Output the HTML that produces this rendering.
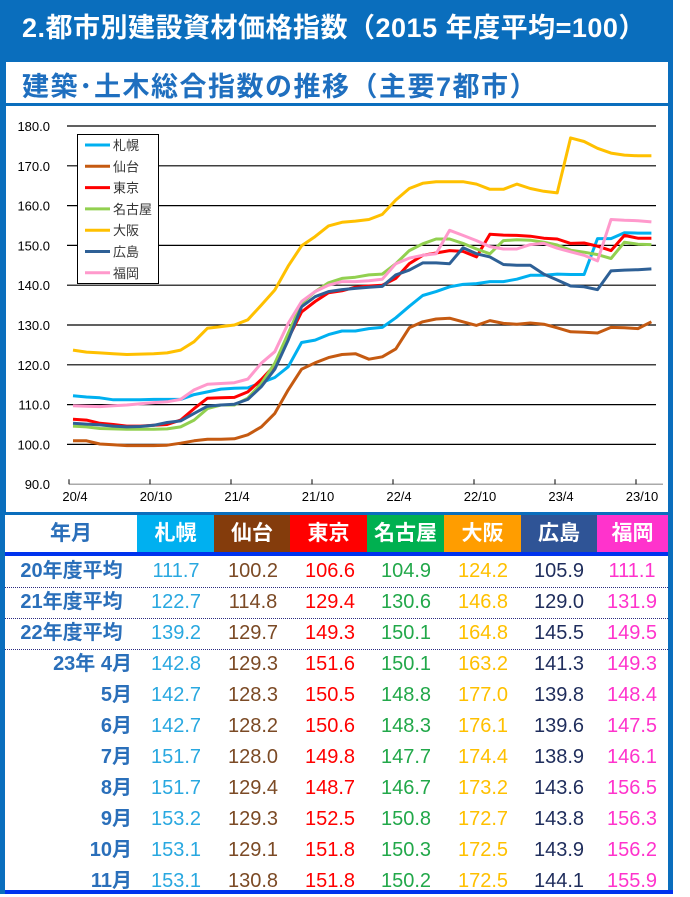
<!DOCTYPE html>
<html><head><meta charset="utf-8">
<style>
body{margin:0;width:690px;height:894px;background:#fff;position:relative;overflow:hidden;font-family:"Liberation Sans","Noto Sans CJK JP",sans-serif;}
.frame{position:absolute;left:0;top:0;width:673px;height:894px;background:#0a6ebd;}
.h1{position:absolute;left:22px;top:6px;color:#fff;font-weight:bold;font-size:27px;letter-spacing:0.5px;white-space:nowrap;}
.sub{position:absolute;left:6px;top:62px;width:662px;height:41px;background:#fff;}
.sub span{position:absolute;left:16px;top:3px;color:#1f6fbf;font-weight:bold;font-size:27px;letter-spacing:1.5px;white-space:nowrap;}
.chart{position:absolute;left:6px;top:106px;width:662px;height:406px;background:#fff;}
.table{position:absolute;left:5px;top:515px;width:663px;height:375px;background:#fff;}
.hd{position:absolute;top:0;height:37px;color:#fff;font-weight:bold;font-size:21px;text-align:center;line-height:37px;}
.row{position:absolute;left:0;width:663px;height:31px;line-height:31px;font-size:20px;}
.row span{position:absolute;text-align:center;width:76px;}
.row .l{left:0;width:127px;text-align:right;color:#2a6fba;font-weight:bold;}
.sep{position:absolute;left:0;width:663px;border-top:1.5px dotted #2a2a80;}
</style></head><body>
<div class="frame"></div>
<div class="h1">2.都市別建設資材価格指数（2015 年度平均=100）</div>
<div class="sub"><span>建築･土木総合指数の推移（主要7都市）</span></div>
<div class="chart">
<svg id="sv" width="662" height="406" viewBox="6 106 662 406" xmlns="http://www.w3.org/2000/svg" style="position:absolute;left:0;top:0">
<g id="grid"></g>
<g id="lines"></g>
<rect x="77.5" y="134.5" width="81" height="149" fill="#fff" stroke="#000" stroke-width="1"/>
<g id="leg" font-family="Liberation Sans,Noto Sans CJK JP,sans-serif" font-size="13" fill="#333"></g>
</svg>
</div>
<div class="table">
<div class="hd" style="left:0;width:132px;background:#fff;color:#2a6fba;">年月</div>
<div class="hd" style="left:132px;width:77px;background:#00b0f0;">札幌</div>
<div class="hd" style="left:209px;width:76px;background:#843c0c;">仙台</div>
<div class="hd" style="left:285px;width:77px;background:#ff0000;">東京</div>
<div class="hd" style="left:362px;width:77px;background:#00b050;">名古屋</div>
<div class="hd" style="left:439px;width:77px;background:#ff9d00;">大阪</div>
<div class="hd" style="left:516px;width:76px;background:#2f5496;">広島</div>
<div class="hd" style="left:592px;width:71px;background:#ff33cc;">福岡</div>
<div style="position:absolute;left:0;top:37px;width:663px;height:4px;background:#0033ee;"></div>
<div id="rows"></div>
</div>
<div style="position:absolute;left:5px;top:890px;width:668px;height:4px;background:#0033ee;"></div>
<script>
var S=[
["札幌","#00b0f0",[112.2,111.9,111.7,111.2,111.2,111.2,111.3,111.3,111.3,112.5,113.2,113.9,114.1,114.2,115.5,116.8,119.5,125.6,126.2,127.6,128.5,128.5,129.1,129.4,131.8,134.7,137.4,138.4,139.6,140.2,140.4,140.9,140.9,141.5,142.5,142.5,142.8,142.7,142.7,151.7,151.7,153.2,153.1,153.1]],
["仙台","#c55a11",[100.9,100.9,100.1,99.9,99.7,99.7,99.7,99.8,100.3,100.9,101.3,101.3,101.4,102.4,104.4,107.8,113.7,118.9,120.5,121.8,122.6,122.8,121.4,122.0,124.0,129.3,130.8,131.5,131.7,130.8,129.9,131.1,130.4,130.2,130.5,130.2,129.3,128.3,128.2,128.0,129.4,129.3,129.1,130.8]],
["東京","#ff0000",[106.3,106.1,105.3,105.0,104.6,104.6,104.8,105.0,106.1,109.0,111.6,111.7,111.8,113.2,116.3,119.9,126.6,133.3,135.9,138.1,138.6,139.5,139.8,140.0,141.7,145.4,147.5,148.1,148.7,148.5,147.1,152.8,152.6,152.5,152.3,151.8,151.6,150.5,150.6,149.8,148.7,152.5,151.8,151.8]],
["名古屋","#92d050",[104.6,104.4,104.0,103.9,103.8,103.8,103.8,103.9,104.4,106.1,109.0,109.9,109.9,111.6,115.3,120.4,127.9,135.4,138.4,140.6,141.7,142.0,142.6,142.8,145.4,148.7,150.4,151.6,151.6,150.5,149.1,147.9,151.2,151.4,151.3,150.8,150.1,148.8,148.3,147.7,146.7,150.8,150.3,150.2]],
["大阪","#ffc000",[123.7,123.2,123.0,122.8,122.6,122.7,122.8,123.0,123.7,125.8,129.2,129.6,130.0,131.3,135.0,138.8,144.8,149.9,152.2,154.9,155.8,156.1,156.5,157.8,161.4,164.3,165.6,166.0,166.0,166.0,165.4,164.1,164.1,165.4,164.3,163.6,163.2,177.0,176.1,174.4,173.2,172.7,172.5,172.5]],
["広島","#2e6096",[105.3,105.1,104.9,104.6,104.4,104.5,104.8,105.5,105.9,107.8,109.6,109.9,110.1,111.3,114.5,118.9,126.2,134.6,137.1,138.4,138.9,139.2,139.5,139.7,142.6,143.8,145.6,145.6,145.4,149.4,147.9,147.1,145.2,145.0,145.0,142.8,141.3,139.8,139.6,138.9,143.6,143.8,143.9,144.1]],
["福岡","#ff99cc",[109.7,109.6,109.5,109.7,109.9,110.2,110.5,110.7,111.3,113.7,115.1,115.3,115.5,116.4,120.4,123.3,130.4,135.9,138.4,140.0,140.9,140.9,141.1,141.5,145.4,146.8,147.5,147.9,153.8,152.5,151.2,149.7,149.1,149.1,150.2,150.5,149.3,148.4,147.5,146.1,156.5,156.3,156.2,155.9]]
];
var NS="http://www.w3.org/2000/svg";
function el(t,a,p,txt){var e=document.createElementNS(NS,t);for(var k in a)e.setAttribute(k,a[k]);if(txt)e.textContent=txt;p.appendChild(e);return e;}
function Y(v){return 126+(180-v)*3.98;}
var g=document.getElementById('grid');
for(var v=90;v<=180;v+=10){var y=Y(v);
 if(v>90)el('line',{x1:67,x2:656,y1:y,y2:y,stroke:'#000','stroke-width':1.2},g);
 el('text',{x:50,y:y+5,'text-anchor':'end','font-size':13,'font-family':'Liberation Sans,sans-serif',fill:'#000'},g,v.toFixed(1));}
el('line',{x1:69,x2:663,y1:Y(90),y2:Y(90),stroke:'#aaa','stroke-width':1.5},g);
var lab=["20/4","20/10","21/4","21/10","22/4","22/10","23/4","23/10"];
for(var k=0;k<8;k++){var x=69+81*k;el('line',{x1:x,x2:x,y1:Y(90)-5,y2:Y(90),stroke:'#000','stroke-width':1},g);
 el('text',{x:x+6,y:501,'text-anchor':'middle','font-size':13,'font-family':'Liberation Sans,sans-serif',fill:'#000'},g,lab[k]);}
var L=document.getElementById('lines');
S.forEach(function(s){var p=s[2].map(function(v,i){return (73+i*13.45).toFixed(1)+","+Y(v).toFixed(1);}).join(" ");
 el('polyline',{points:p,fill:'none',stroke:s[1],'stroke-width':3,'stroke-linejoin':'round'},L);});
var lg=document.getElementById('leg');
S.forEach(function(s,i){var y=145+i*21.3;el('line',{x1:85,x2:110,y1:y,y2:y,stroke:s[1],'stroke-width':3},lg);el('text',{x:113,y:y+5},lg,s[0]);});
var R=[["20年度平均",[111.7,100.2,106.6,104.9,124.2,105.9,111.1]],["21年度平均",[122.7,114.8,129.4,130.6,146.8,129.0,131.9]],["22年度平均",[139.2,129.7,149.3,150.1,164.8,145.5,149.5]],
["23年 4月",[142.8,129.3,151.6,150.1,163.2,141.3,149.3]],["5月",[142.7,128.3,150.5,148.8,177.0,139.8,148.4]],["6月",[142.7,128.2,150.6,148.3,176.1,139.6,147.5]],["7月",[151.7,128.0,149.8,147.7,174.4,138.9,146.1]],["8月",[151.7,129.4,148.7,146.7,173.2,143.6,156.5]],["9月",[153.2,129.3,152.5,150.8,172.7,143.8,156.3]],["10月",[153.1,129.1,151.8,150.3,172.5,143.9,156.2]],["11月",[153.1,130.8,151.8,150.2,172.5,144.1,155.9]]];
var C=["#29a8e0","#7b4a25","#ff0000","#22a84a","#ffc000","#1f2d5c","#ff33cc"];
var X=[133,210,287,363,440,516,589];
var h="";
R.forEach(function(r,i){var t=41+i*31.0;
 h+='<div class="row" style="top:'+t+'px"><span class="l"'+(i<3?' style="width:127px;text-align:center;left:3px"':'')+'>'+r[0]+'</span>';
 r[1].forEach(function(v,j){h+='<span style="left:'+X[j]+'px;color:'+C[j]+'">'+v.toFixed(1)+'</span>';});
 h+='</div>'; if(i<3)h+='<div class="sep" style="top:'+(t+31.0)+'px"></div>';});
document.getElementById('rows').innerHTML=h;
</script>
</body></html>
